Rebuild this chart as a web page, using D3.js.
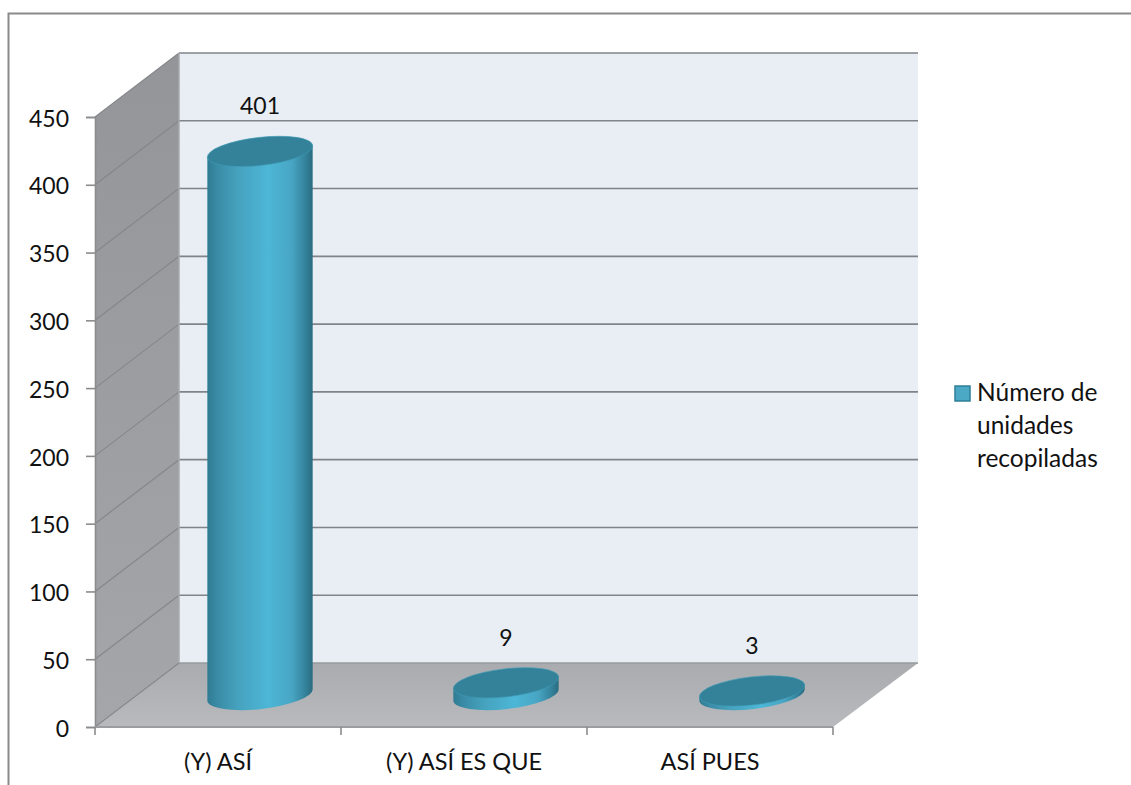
<!DOCTYPE html>
<html>
<head>
<meta charset="utf-8">
<script src="https://cdn.jsdelivr.net/npm/d3@7"></script>
<style>
  html, body { margin: 0; padding: 0; background: #fff; }
  svg { display: block; }
  text { font-family: Lato, sans-serif; fill: #111; }
</style>
</head>
<body>
<div id="chart"></div>
<script>
// chart data
const categories = ['(Y) ASÍ', '(Y) ASÍ ES QUE', 'ASÍ PUES'];
const unidades = [401, 9, 3];
const yTicks = [0, 50, 100, 150, 200, 250, 300, 350, 400, 450];
const legendLines = ['Número de', 'unidades', 'recopiladas'];

const width = 1131, height = 785;

// box geometry: front plane plus a fixed depth offset for the back wall
const front = { left: 95, right: 833, bottom: 727, top: 117 };
const depth = { x: 84, y: -64 };

const y = d3.scaleLinear().domain([0, 450]).range([front.bottom, front.top]);
const x = d3.scaleBand().domain(categories).range([front.left, front.right]);

const svg = d3.select('#chart').append('svg')
	.attr('width', width)
	.attr('height', height);

const defs = svg.append('defs');

// horizontal shading that gives the cylinders their round look
const barGrad = defs.append('linearGradient').attr('id', 'barGrad');
[[0, '#2f7c93'], [0.1, '#3a8ca6'], [0.3, '#46a3bf'], [0.58, '#4db6d6'], [0.8, '#48a6c4'], [0.93, '#34829b'], [1, '#2a6c81']]
	.forEach(([o, c]) => barGrad.append('stop').attr('offset', o).attr('stop-color', c));

const floorGrad = defs.append('linearGradient').attr('id', 'floorGrad')
	.attr('x1', 0).attr('x2', 0).attr('y1', 0).attr('y2', 1);
floorGrad.append('stop').attr('offset', 0).attr('stop-color', '#a9abae');
floorGrad.append('stop').attr('offset', 1).attr('stop-color', '#b8babd');

const sideGrad = defs.append('linearGradient').attr('id', 'sideGrad')
	.attr('x1', 0).attr('x2', 0).attr('y1', 0).attr('y2', 1);
sideGrad.append('stop').attr('offset', 0).attr('stop-color', '#939598');
sideGrad.append('stop').attr('offset', 1).attr('stop-color', '#a4a6a9');

// outer frame, open on the right and at the bottom
svg.append('path')
	.attr('d', `M8.5,${height}V13.5H${width}`)
	.attr('fill', 'none')
	.attr('stroke', '#8a8a8a')
	.attr('stroke-width', 2);

const line = d3.line();
const yMin = y(0), yMax = y(450);
const backL = front.left + depth.x, backR = front.right + depth.x + 1;

// back wall, side wall, floor
svg.append('path')
	.attr('d', line([[backL, yMax + depth.y], [backR, yMax + depth.y], [backR, yMin + depth.y], [backL, yMin + depth.y]]) + 'Z')
	.attr('fill', '#e8eef3');
svg.append('path')
	.attr('d', line([[front.left, yMax], [backL, yMax + depth.y], [backL, yMin + depth.y], [front.left, yMin]]) + 'Z')
	.attr('fill', 'url(#sideGrad)');
svg.append('path')
	.attr('d', line([[front.left, yMin], [front.right, yMin], [backR, yMin + depth.y], [backL, yMin + depth.y]]) + 'Z')
	.attr('fill', 'url(#floorGrad)');

// gridlines run along the side wall and across the back wall
const grid = svg.append('g').attr('class', 'grid-lines').attr('fill', 'none');
grid.selectAll('path.side')
	.data(yTicks)
	.join('path')
	.attr('class', 'side')
	.attr('stroke', '#85878a')
	.attr('stroke-width', 1.2)
	.attr('d', (d) => line([[front.left, y(d)], [backL, y(d) + depth.y]]));
grid.selectAll('path.back')
	.data(yTicks)
	.join('path')
	.attr('class', 'back')
	.attr('stroke', (d) => d === 0 ? '#999b9e' : '#80848a')
	.attr('stroke-width', 1.6)
	.attr('d', (d) => line([[backL, y(d) + depth.y], [backR, y(d) + depth.y]]));
svg.append('line')
	.attr('x1', backL).attr('x2', backL)
	.attr('y1', yMax + depth.y).attr('y2', yMin + depth.y)
	.attr('stroke', '#a9abae').attr('stroke-width', 1.5);

// y axis
const yAxis = svg.append('g')
	.attr('transform', `translate(${front.left},0)`)
	.call(d3.axisLeft(y).tickValues(yTicks).tickSize(9).tickPadding(17));
yAxis.select('.domain').attr('stroke', '#8a8c8e').attr('stroke-width', 1.6);
yAxis.selectAll('.tick line').attr('stroke', '#8a8c8e').attr('stroke-width', 1.6);
yAxis.selectAll('text')
	.attr('dy', '0.4em')
	.style('font-size', '23px')
	.style('font-family', 'Lato, sans-serif')
	.attr('fill', '#111');

// x axis: ticks at band edges
const xAxisLine = svg.append('g').attr('class', 'x-axis');
xAxisLine.append('line')
	.attr('x1', front.left).attr('x2', front.right)
	.attr('y1', yMin).attr('y2', yMin)
	.attr('stroke', '#9a9c9f').attr('stroke-width', 2);
xAxisLine.selectAll('line.tick')
	.data([...categories.map((c) => x(c)), front.right])
	.join('line')
	.attr('class', 'tick')
	.attr('x1', (d) => d).attr('x2', (d) => d)
	.attr('y1', yMin).attr('y2', yMin + 8)
	.attr('stroke', '#8a8c8e').attr('stroke-width', 1.6);
xAxisLine.selectAll('text')
	.data(categories)
	.join('text')
	.attr('x', (d) => x(d) + x.bandwidth() / 2)
	.attr('y', yMin + 43)
	.attr('text-anchor', 'middle')
	.style('font-size', '23.5px')
	.text((d) => d);

// cylinders sit halfway into the depth of the box
const rx = 53, ry = 14, tilt = -6.5;
const tiltRad = tilt * Math.PI / 180;
const barData = categories.map((c, i) => ({ name: c, value: unidades[i] }));

const bars = svg.append('g').attr('class', 'bars').selectAll('g')
	.data(barData)
	.join('g')
	.attr('transform', (d) => `translate(${x(d.name) + x.bandwidth() / 2 + depth.x / 2},0)`);

// body: outline of the tilted ellipses at top and base
const dxEdge = rx * Math.cos(tiltRad), dyEdge = rx * Math.sin(tiltRad);
bars.append('path')
	.attr('fill', 'url(#barGrad)')
	.attr('d', (d) => {
		const base = y(0) + depth.y / 2, top = y(d.value) + depth.y / 2;
		return `M${-dxEdge},${top - dyEdge}`
			+ `L${-dxEdge},${base - dyEdge}`
			+ `A${rx},${ry} ${tilt} 0 0 ${dxEdge},${base + dyEdge}`
			+ `L${dxEdge},${top + dyEdge}Z`;
	});
bars.append('ellipse')
	.attr('rx', rx).attr('ry', ry)
	.attr('fill', '#338299')
	.attr('stroke', '#3f9ab6')
	.attr('stroke-width', 0.6)
	.attr('transform', (d) => `translate(0,${y(d.value) + depth.y / 2}) rotate(${tilt})`);

// value labels
bars.append('text')
	.attr('y', (d) => y(d.value) + depth.y / 2 - 37)
	.attr('x', 0)
	.attr('text-anchor', 'middle')
	.style('font-size', '23px')
	.text((d) => d.value);

// legend
const legend = svg.append('g').attr('class', 'legend');
legend.append('rect')
	.attr('x', 955).attr('y', 386).attr('width', 15).attr('height', 15)
	.attr('fill', '#4ba9c6').attr('stroke', '#2f7f98').attr('stroke-width', 1.5);
legend.selectAll('text')
	.data(legendLines)
	.join('text')
	.attr('x', 977)
	.attr('y', (d, i) => 401 + i * 33)
	.style('font-size', '24.5px')
	.text((d) => d);
</script>
</body>
</html>
